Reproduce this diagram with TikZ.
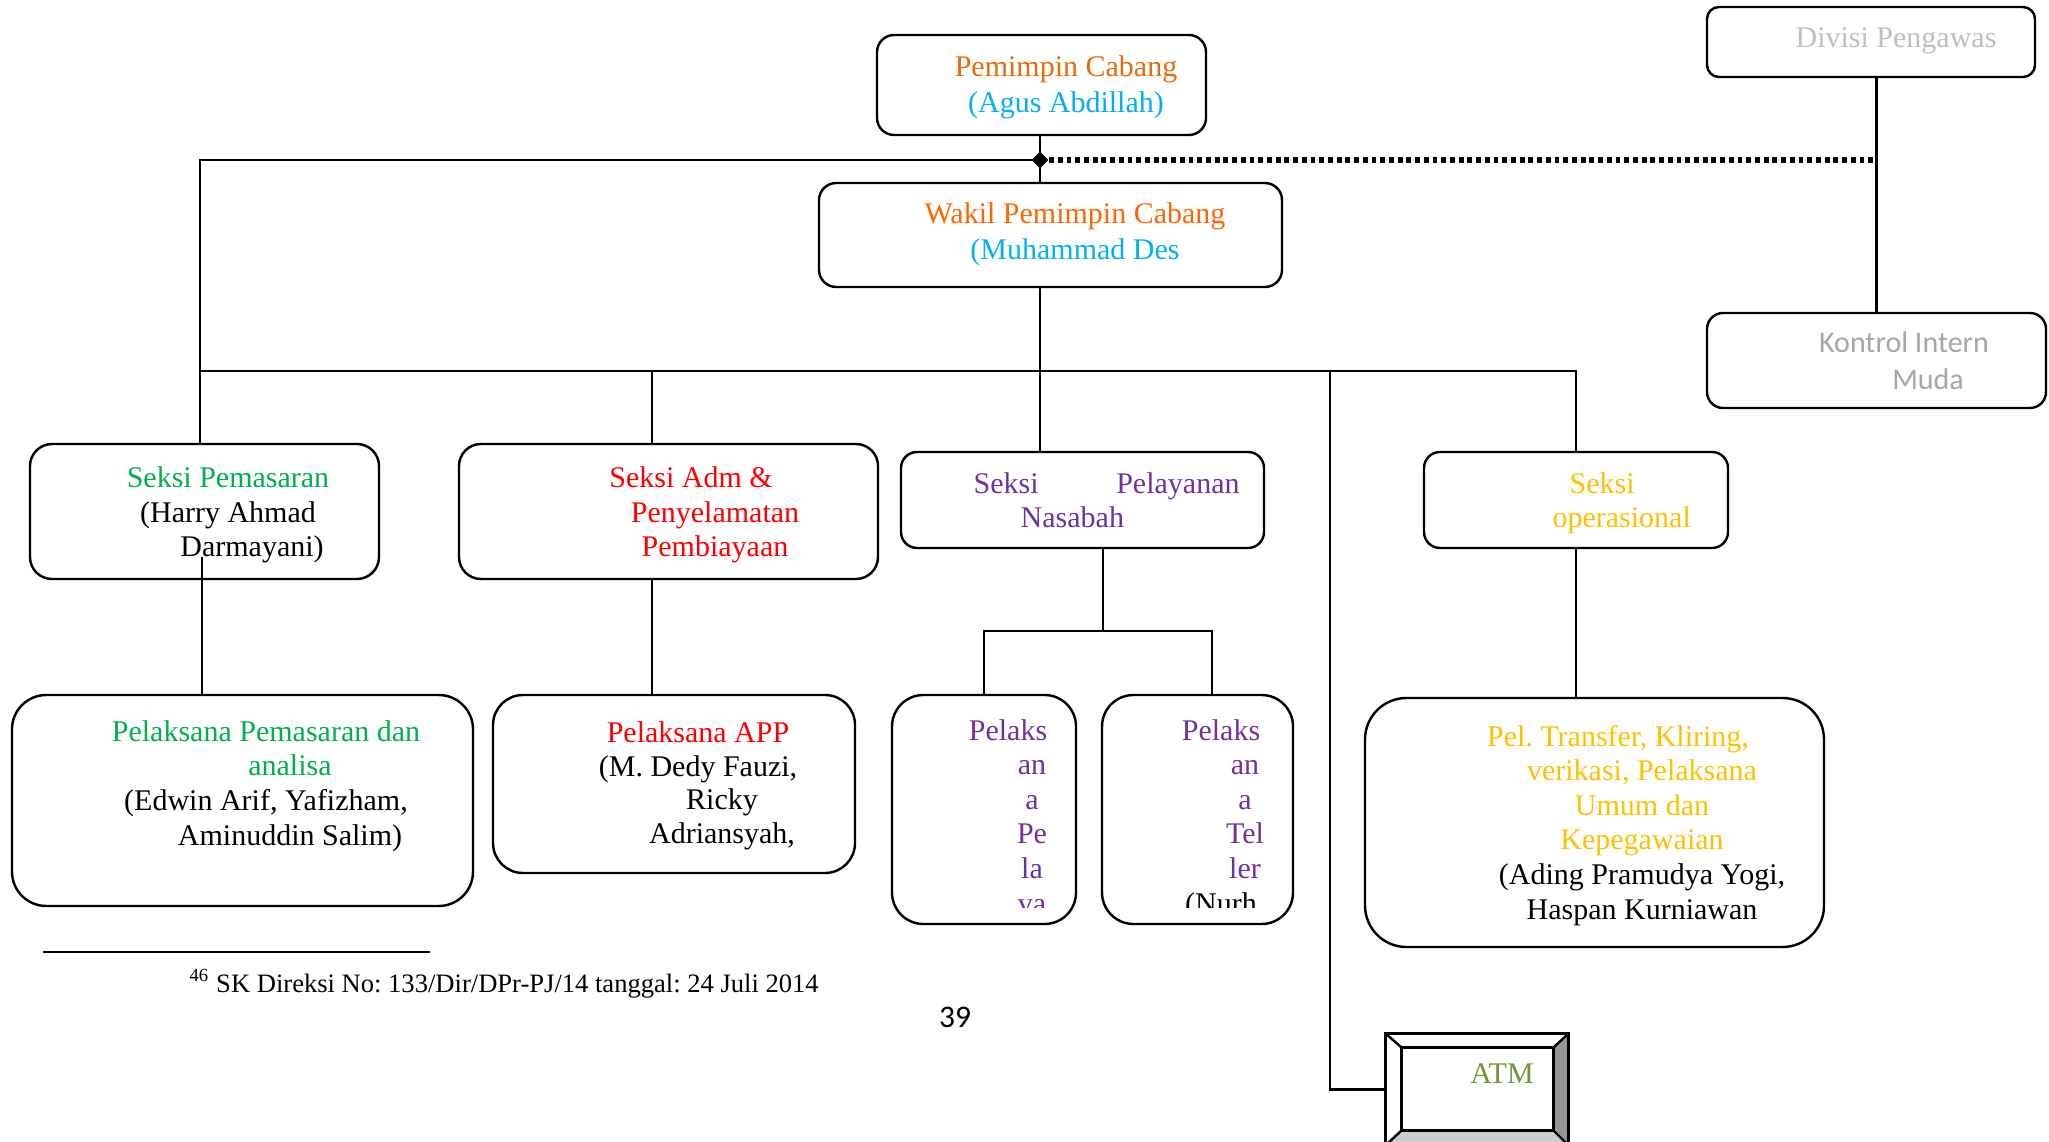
\documentclass[tikz,border=0pt]{standalone}
\usepackage{fontspec}
\setmainfont{Liberation Serif}
\newfontfamily\calibrifont{Carlito}
\usepackage{xcolor}
\usetikzlibrary{calc,fit,shapes.geometric}
\frenchspacing
\definecolor{ink}{HTML}{000000}
\definecolor{headorange}{HTML}{E46C0A}
\definecolor{deputyorange}{HTML}{FF6600}
\definecolor{namecyan}{HTML}{00B0F0}
\definecolor{paleink}{HTML}{BFBFBF}
\definecolor{greyink}{HTML}{A6A6A6}
\definecolor{marketgreen}{HTML}{00B050}
\definecolor{admred}{HTML}{FF0000}
\definecolor{servpurple}{HTML}{7030A0}
\definecolor{opsgold}{HTML}{FFC000}
\definecolor{atmgreen}{HTML}{76923C}
\definecolor{bevelshade}{HTML}{969696}
\definecolor{bevellight}{HTML}{CCCCCC}
\newcommand{\wordind}{\hspace*{16.8pt}}
\tikzset{
  orgbox/.style={draw=ink, line width=.85pt, inner sep=0pt, rounded corners=#1},
  orgbox/.default=6pt,
  link/.style={draw=ink, line width=.75pt},
  dotlink/.style={draw=ink, line width=1.8pt, dash pattern=on 1.7pt off 1.35pt},
  junction/.style={diamond, fill=ink, inner sep=0pt, minimum width=6pt,
    minimum height=6pt},
  txt/.style={inner sep=0pt, align=center, anchor=base,
    font=\fontsize{10.5}{12.1}\selectfont},
  toptxt/.style={txt, font=\fontsize{10.5}{12.6}\selectfont},
  lefttxt/.style={txt, align=left, anchor=base west},
  bevel/.style={draw=ink, line width=.85pt},
  footrule/.style={draw=ink, line width=.8pt}
}

\begin{document}
\begin{tikzpicture}[x=.35pt,y=-.35pt]
  \useasboundingbox (0,0) rectangle (2049,1142);
  \clip (0,0) rectangle (2049,1142);

  % -------------------------------------------------------------------
  % Top of the chart (text nodes sit on their last baseline)
  \node[orgbox=6pt, fit={(877,35) (1206,135)}] (pemimpin) {};
  \node[toptxt] (pemimpinText) at (1066,113)
    {\textcolor{headorange}{Pemimpin Cabang}\\\textcolor{namecyan}{(Agus Abdillah)}};
  \node[orgbox=6pt, fit={(819,183) (1282,287)}] (wakil) {};
  \node[toptxt] (wakilText) at (1075,260)
    {\textcolor{deputyorange}{Wakil Pemimpin Cabang}\\\textcolor{namecyan}{(Muhammad Des}};
  \node[junction] (jtop) at (1040,160) {};

  \node[orgbox=4.2pt, fit={(1707,7) (2035,77)}] (divisi) {};
  \node[txt, text=paleink] (divisiText) at (1896,48) {Divisi Pengawas};
  \node[orgbox=5.6pt, fit={(1707,313) (2046,408)}] (kontrol) {};
  \node[txt, text=greyink, font=\calibrifont\fontsize{10.5}{13}\selectfont]
    (kontrolText) at (1904,390) {Kontrol Intern\\\wordind Muda};

  % -------------------------------------------------------------------
  % Sections
  \node[orgbox=7.7pt, fit={(30,444) (379,579)}] (pemasaran) {};
  \node[txt] (pemasaranText) at (228,557)
    {\textcolor{marketgreen}{Seksi Pemasaran}\\(Harry Ahmad\\\wordind Darmayani)};
  \node[orgbox=7.7pt, fit={(459,444) (878,579)}] (adm) {};
  \node[txt, text=admred] (admText) at (715,557)
    {Seksi Adm \&\wordind\\Penyelamatan\\Pembiayaan};
  \node[orgbox=5.6pt, fit={(901,452) (1264,548)}] (pelayanan) {};
  \node[lefttxt, text=servpurple] (pelayananText) at (973,528)
    {\makebox[93.1pt][s]{Seksi\hfill Pelayanan}\\\hspace*{16.5pt}Nasabah};
  \node[orgbox=5.6pt, fit={(1424,452) (1728,548)}] (operasional) {};
  \node[lefttxt, text=opsgold] (operasionalText) at (1552,528)
    {\hspace*{6pt}Seksi\\operasional};

  % -------------------------------------------------------------------
  % Staff
  \node[orgbox=12pt, fit={(12,695) (473,906)}] (pelpem) {};
  \node[txt] (pelpemText) at (266,845)
    {\textcolor{marketgreen}{Pelaksana Pemasaran dan}\\\textcolor{marketgreen}{\wordind analisa}\\
     (Edwin Arif, Yafizham,\\\wordind Aminuddin Salim)};
  \node[orgbox=10.5pt, fit={(493,695) (855,873)}] (app) {};
  \node[txt, font=\fontsize{10.5}{11.7}\selectfont] (appText) at (698,843)
    {\textcolor{admred}{Pelaksana APP}\\(M. Dedy Fauzi,\\\wordind Ricky\\\wordind Adriansyah,};
  \node[orgbox=11pt, fit={(892,695) (1076,924)}] (pela) {};
  \node[orgbox=11pt, fit={(1102,695) (1293,924)}] (teller) {};
  \begin{scope}
    \clip (880,690) rectangle (1300,907);
    \node[txt, text=servpurple] (pelaText) at (1032,913)
      {Pelaks\wordind\\an\\a\\Pe\\la\\va};
    \node[txt, text=servpurple] (tellerText) at (1245,913)
      {Pelaks\wordind\\an\\a\\Tel\\ler\\\textcolor{ink}{(Nurh\wordind}};
  \end{scope}
  \node[orgbox=14.5pt, fit={(1365,698) (1824,947)}] (transfer) {};
  \node[txt] (transferText) at (1642,919)
    {\textcolor{opsgold}{Pel. Transfer, Kliring,\wordind}\\\textcolor{opsgold}{verikasi, Pelaksana}\\
     \textcolor{opsgold}{Umum dan}\\\textcolor{opsgold}{Kepegawaian}\\
     (Ading Pramudya Yogi,\wordind\\Haspan Kurniawan};

  % ATM, a bevelled box
  \node[inner sep=0pt, fit={(1386,1034) (1568,1145)}] (atm) {};
  \coordinate (atmNW) at ($(atm.north west)+(16,14)$);
  \coordinate (atmNE) at ($(atm.north east)+(-15,14)$);
  \coordinate (atmSE) at ($(atm.south east)+(-15,-15)$);
  \coordinate (atmSW) at ($(atm.south west)+(16,-15)$);
  \fill[bevelshade] (atm.north east) -- (atm.south east) -- (atmSE) -- (atmNE) -- cycle;
  \fill[bevellight] (atm.south west) -- (atm.south east) -- (atmSE) -- (atmSW) -- cycle;
  \draw[bevel] (atm.north west) rectangle (atm.south east);
  \draw[bevel] (atmNW) rectangle (atmSE);
  \draw[bevel] (atm.north west) -- (atmNW) (atm.north east) -- (atmNE)
    (atm.south east) -- (atmSE) (atm.south west) -- (atmSW);
  \node[txt, text=atmgreen] (atmText) at (1502,1083) {ATM};

  % -------------------------------------------------------------------
  % Connectors
  \coordinate (bus) at (200,371);
  \coordinate (admdrop) at (652,371);
  \coordinate (atmdrop) at (1330,371);
  \coordinate (pemdrop) at (202,557);
  \coordinate (nasfork) at (1103,631);
  \coordinate (tellerdrop) at (1212,631);

  \draw[link] (pemimpin.south -| jtop) -- (jtop.center) -- (wakil.north -| jtop);
  \draw[link] (jtop.center) -| (bus |- pemasaran.north);
  \draw[dotlink] (jtop.east) -- (jtop -| kontrol.north);
  \draw[link] (divisi.south -| kontrol.north) -- (kontrol.north);
  \draw[link] (wakil.south -| jtop) -- (pelayanan.north -| jtop);
  \draw[link] (bus) -- (bus -| operasional.north) -- (operasional.north);
  \draw[link] (admdrop) -- (admdrop |- adm.north);
  \draw[link] (admdrop |- adm.south) -- (admdrop |- app.north);
  \draw[link] (atmdrop) |- (atm.west);
  \draw[link] (operasional.south) -- (operasional.south |- transfer.north);
  \draw[link] (pemdrop) -- (pemdrop |- pelpem.north);
  \draw[link] (nasfork |- pelayanan.south) -- (nasfork);
  \draw[link] (pela.north) |- (nasfork) -- (tellerdrop) -- (tellerdrop |- teller.north);

  % footnote and page number
  \draw[footrule] (43,952) -- (430,952);
  \node[anchor=base west, inner sep=0pt, font=\fontsize{9.3}{11}\selectfont]
    (footnote) at (189,992)
    {\textsuperscript{46} SK Direksi No: 133/Dir/DPr-PJ/14 tanggal: 24 Juli 2014};
  \node[anchor=base, inner sep=0pt, font=\calibrifont\fontsize{11}{13}\selectfont]
    (pagenum) at (955,1027) {39};
\end{tikzpicture}
\end{document}
